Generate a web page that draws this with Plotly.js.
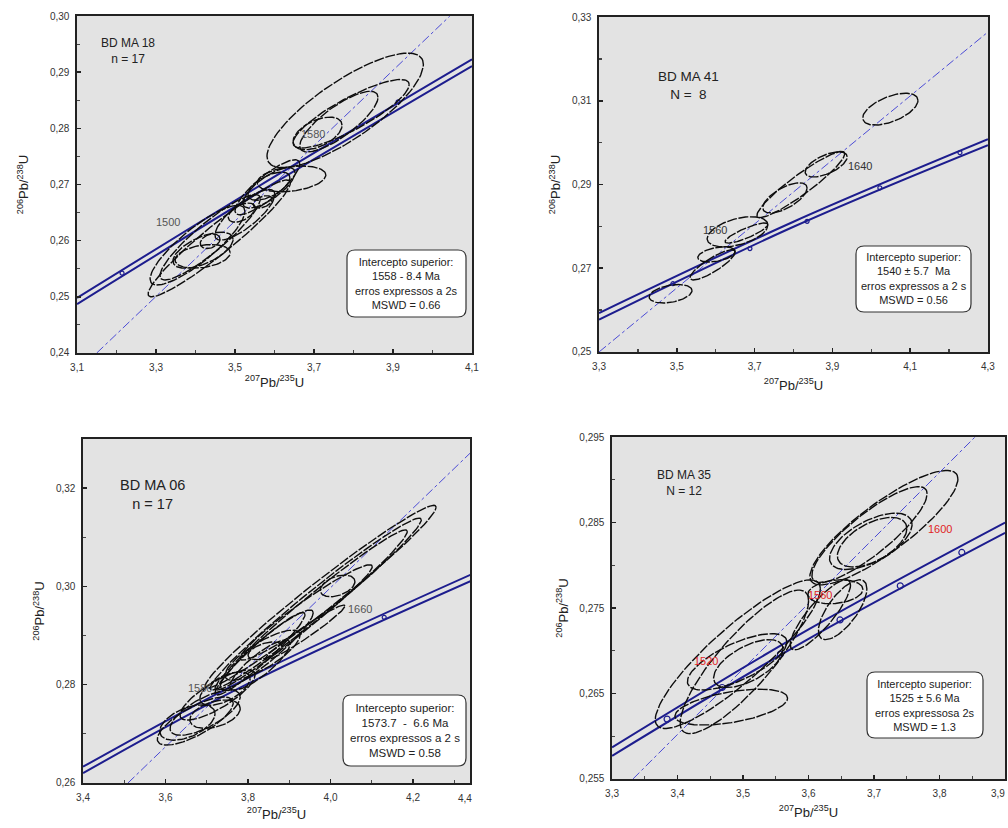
<!DOCTYPE html>
<html><head><meta charset="utf-8">
<script src="https://cdn.plot.ly/plotly-3.0.1.min.js"></script>
<style>html,body{margin:0;padding:0;background:#fff;}#chart{width:1008px;height:828px;}</style>
</head><body><div id="chart"></div>
<script>
// ---------------- DATA ----------------
// Panel 1 : BD MA 18 — error ellipses (centre, half-widths, correlation)
const p1_cx  = [3.779, 3.794, 3.763, 3.709, 3.643, 3.582, 3.586, 3.586, 3.570, 3.517, 3.460, 3.405, 3.419, 3.418, 3.437, 3.525, 3.437];
const p1_cy  = [0.2832, 0.2826, 0.2812, 0.2791, 0.2710, 0.2695, 0.2694, 0.2697, 0.2669, 0.2650, 0.2604, 0.2592, 0.2583, 0.2572, 0.2599, 0.2646, 0.2606];
const p1_sx  = [0.198, 0.147, 0.099, 0.062, 0.087, 0.082, 0.066, 0.053, 0.024, 0.034, 0.180, 0.120, 0.076, 0.070, 0.025, 0.076, 0.127];
const p1_sy  = [0.0102, 0.0061, 0.0054, 0.0029, 0.0023, 0.0049, 0.0036, 0.0025, 0.0011, 0.0017, 0.0104, 0.0071, 0.0032, 0.0021, 0.0013, 0.0045, 0.0076];
const p1_rho = [0.80, 0.85, 0.80, 0.50, 0.30, 0.85, 0.75, 0.60, 0.40, 0.50, 0.95, 0.85, 0.60, 0.30, 0.30, 0.80, 0.90];
const p1_concX = [3.1, 3.6, 4.1];
const p1_concUp = [0.2498, 0.2714, 0.2923];
const p1_concLo = [0.2487, 0.2703, 0.2911];
const p1_discX = [3.15, 4.044];
const p1_discY = [0.24, 0.30];
const p1_ageX = [3.214, 3.913];
const p1_ageY = [0.2542, 0.2847];

// Panel 2 : BD MA 41
const p2_cx  = [4.049, 3.884, 3.819, 3.778, 3.656, 3.679, 3.602, 3.592, 3.484];
const p2_cy  = [0.3080, 0.2948, 0.2900, 0.2868, 0.2787, 0.2784, 0.2733, 0.2708, 0.2639];
const p2_sx  = [0.071, 0.054, 0.113, 0.057, 0.078, 0.055, 0.048, 0.058, 0.055];
const p2_sy  = [0.0038, 0.0030, 0.0079, 0.0036, 0.0036, 0.0024, 0.0018, 0.0036, 0.0022];
const p2_rho = [0.55, 0.60, 0.93, 0.65, 0.45, 0.85, 0.40, 0.85, 0.35];
const p2_concX = [3.3, 3.8, 4.3];
const p2_concUp = [0.2593, 0.2811, 0.3008];
const p2_concLo = [0.2577, 0.2799, 0.2994];
const p2_discX = [3.3, 4.297];
const p2_discY = [0.25, 0.3262];
const p2_ageX = [3.49, 3.688, 3.835, 4.022, 4.228];
const p2_ageY = [0.2663, 0.2747, 0.2812, 0.2892, 0.2976];

// Panel 3 : BD MA 06
const p3_cx  = [3.976, 3.964, 3.953, 4.017, 3.941, 3.845, 3.829, 3.835, 3.841, 3.829, 3.938, 3.672, 3.653, 3.696, 3.726, 3.744, 3.720];
const p3_cy  = [0.2979, 0.2964, 0.2952, 0.3001, 0.2947, 0.2871, 0.2863, 0.2860, 0.2869, 0.2840, 0.2906, 0.2726, 0.2723, 0.2743, 0.2779, 0.2792, 0.2740];
const p3_sx  = [0.280, 0.256, 0.233, 0.042, 0.160, 0.113, 0.109, 0.091, 0.041, 0.073, 0.097, 0.092, 0.067, 0.085, 0.091, 0.061, 0.061];
const p3_sy  = [0.0186, 0.0175, 0.0163, 0.0022, 0.0097, 0.0081, 0.0084, 0.0051, 0.0018, 0.0051, 0.0056, 0.0049, 0.0036, 0.0046, 0.0051, 0.0034, 0.0029];
const p3_rho = [0.98, 0.98, 0.98, 0.40, 0.96, 0.93, 0.95, 0.80, 0.50, 0.85, 0.97, 0.75, 0.50, 0.70, 0.80, 0.60, 0.40];
const p3_concX = [3.4, 3.8, 4.34];
const p3_concUp = [0.2633, 0.2814, 0.3024];
const p3_concLo = [0.2620, 0.2802, 0.3011];
const p3_discX = [3.509, 4.338];
const p3_discY = [0.26, 0.3271];
const p3_ageX = [4.13];
const p3_ageY = [0.2937];

// Panel 4 : BD MA 35
const p4_cx  = [3.715, 3.693, 3.695, 3.697, 3.641, 3.652, 3.618, 3.492, 3.502, 3.482, 3.491, 3.508];
const p4_cy  = [0.2844, 0.2836, 0.2828, 0.2827, 0.2769, 0.2748, 0.2742, 0.2696, 0.2687, 0.2634, 0.2687, 0.2685];
const p4_sx  = [0.113, 0.088, 0.063, 0.053, 0.042, 0.037, 0.046, 0.126, 0.098, 0.086, 0.076, 0.053];
const p4_sy  = [0.0067, 0.0056, 0.0033, 0.0029, 0.0014, 0.0035, 0.0041, 0.0087, 0.0084, 0.0021, 0.0033, 0.0028];
const p4_rho = [0.85, 0.85, 0.60, 0.55, 0.20, 0.70, 0.85, 0.88, 0.85, 0.50, 0.70, 0.60];
const p4_concX = [3.3, 3.6, 3.9];
const p4_concUp = [0.2587, 0.2725, 0.2850];
const p4_concLo = [0.2577, 0.2714, 0.2838];
const p4_discX = [3.332, 3.854];
const p4_discY = [0.255, 0.295];
const p4_ageX = [3.384, 3.468, 3.557, 3.648, 3.740, 3.834];
const p4_ageY = [0.2620, 0.2657, 0.2696, 0.2736, 0.2776, 0.2815];

// Texts
const sampleLabels = ["BD MA 18<br>n = 17", "BD MA 41<br>N =  8", "BD MA 06<br>n = 17", "BD MA 35<br>N = 12"];
const boxTexts = [
  "Intercepto superior:<br>1558 - 8.4 Ma<br>erros expressos a 2s<br>MSWD = 0.66",
  "Intercepto superior:<br>1540 ± 5.7  Ma<br>erros expressos a 2 s<br>MSWD = 0.56",
  "Intercepto superior:<br>1573.7  -  6.6 Ma<br>erros expressos a 2 s<br>MSWD = 0.58",
  "Intercepto superior:<br>1525 ± 5.6 Ma<br>erros expressosa 2s<br>MSWD = 1.3"
];
const ageLabels = [
  {t: ["1500", "1580"], x: [3.330, 3.697], y: [0.2633, 0.2790]},
  {t: ["1560", "1640"], x: [3.598, 3.971], y: [0.2791, 0.2944]},
  {t: ["1580", "1660"], x: [3.684, 4.072], y: [0.2793, 0.2954]},
  {t: ["1520", "1560", "1600"], x: [3.4435, 3.6176, 3.8008], y: [0.2688, 0.2765, 0.2842]}
];
const edgeTickLabels = ["4,4", "3,9"];   // last tick labels at the cropped right edges
const xTitle = "<sup>207</sup>Pb/<sup>235</sup>U";
const yTitle = "<sup>206</sup>Pb/<sup>238</sup>U";

// ---------------- BUILD ----------------
const W = 1008, H = 828;
const FONT = 'Arial, "Liberation Sans", sans-serif';
const fx = p => p / W;
const fy = p => 1 - p / H;

const NAVY = '#1d1d8e';

function ellipses(cx, cy, sx, sy, rho, xa, ya) {
  const xs = [], ys = [];
  for (let i = 0; i < cx.length; i++) {
    const k = Math.sqrt(1 - rho[i] * rho[i]);
    for (let j = 0; j <= 96; j++) {
      const t = 2 * Math.PI * j / 96;
      xs.push(cx[i] + sx[i] * Math.cos(t));
      ys.push(cy[i] + sy[i] * (rho[i] * Math.cos(t) + k * Math.sin(t)));
    }
    xs.push(null); ys.push(null);
  }
  return {type: 'scatter', mode: 'lines', x: xs, y: ys, xaxis: xa, yaxis: ya,
    line: {color: '#0d0d0d', width: 1.4, dash: '10px,1.6px'}, hoverinfo: 'skip', connectgaps: false};
}
function line(x, y, xa, ya, style) {
  return {type: 'scatter', mode: 'lines', x: x, y: y, xaxis: xa, yaxis: ya, line: style, hoverinfo: 'skip'};
}
function ages(x, y, xa, ya, size) {
  return {type: 'scatter', mode: 'markers', x: x, y: y, xaxis: xa, yaxis: ya,
    marker: {symbol: 'circle-open', size: size, color: NAVY, line: {width: 1.2, color: NAVY}}, hoverinfo: 'skip'};
}

const panels = [
  {cx: p1_cx, cy: p1_cy, sx: p1_sx, sy: p1_sy, rho: p1_rho, cX: p1_concX, cU: p1_concUp, cL: p1_concLo, dX: p1_discX, dY: p1_discY, aX: p1_ageX, aY: p1_ageY},
  {cx: p2_cx, cy: p2_cy, sx: p2_sx, sy: p2_sy, rho: p2_rho, cX: p2_concX, cU: p2_concUp, cL: p2_concLo, dX: p2_discX, dY: p2_discY, aX: p2_ageX, aY: p2_ageY},
  {cx: p3_cx, cy: p3_cy, sx: p3_sx, sy: p3_sy, rho: p3_rho, cX: p3_concX, cU: p3_concUp, cL: p3_concLo, dX: p3_discX, dY: p3_discY, aX: p3_ageX, aY: p3_ageY},
  {cx: p4_cx, cy: p4_cy, sx: p4_sx, sy: p4_sy, rho: p4_rho, cX: p4_concX, cU: p4_concUp, cL: p4_concLo, dX: p4_discX, dY: p4_discY, aX: p4_ageX, aY: p4_ageY}
];

// layout geometry (pixels) for each panel
const geo = [
  {x0: 77, x1: 472, y0: 16, y1: 353, xr: [3.0999, 4.1001], yr: [0.23999, 0.30001], xt0: 3.1, xd: 0.2, xm: 0.1, yt0: 0.24, yd: 0.01, ym: 0.005, xf: '.1f', yf: '.2f',
   box: [347, 250, 466, 317], boxFont: 11, lab: [128, 51], labFont: 12, xts: 6, yts: 18, ageColor: '#555', mk: 4},
  {x0: 599, x1: 988, y0: 17, y1: 352, xr: [3.2999, 4.3001], yr: [0.24999, 0.33001], xt0: 3.3, xd: 0.2, xm: 0.1, yt0: 0.25, yd: 0.02, ym: 0.01, xf: '.1f', yf: '.2f',
   box: [856, 246, 971, 312], boxFont: 11, lab: [688, 85], labFont: 13.5, xts: 10, yts: 8, ageColor: '#333', mk: 4},
  {x0: 83, x1: 470, y0: 439, y1: 783, xr: [3.3999, 4.338], yr: [0.25999, 0.33], xt0: 3.4, xd: 0.2, xm: 0.1, yt0: 0.26, yd: 0.02, ym: 0.01, xf: '.1f', yf: '.2f',
   box: [343, 695, 466, 766], boxFont: 11.5, lab: [152, 494], labFont: 14.5, xts: 8, yts: 8, ageColor: '#555', mk: 4},
  {x0: 612, x1: 1005, y0: 437, y1: 779, xr: [3.2999, 3.8999], yr: [0.25499, 0.29501], xt0: 3.3, xd: 0.1, xm: 0.05, yt0: 0.255, yd: 0.01, ym: 0.005, xf: '.1f', yf: '.3f',
   box: [867, 672, 983, 738], boxFont: 11, lab: [684, 483], labFont: 12, xts: 10, yts: 8, ageColor: '#e02424', mk: 6}
];

const data = [];
const layout = {
  width: W, height: H, margin: {l: 0, r: 0, t: 0, b: 0}, autosize: false,
  paper_bgcolor: '#ffffff', plot_bgcolor: '#e3e3e3', separators: ',.', showlegend: false,
  font: {family: FONT, color: '#222'}, shapes: [], annotations: []
};

panels.forEach((p, i) => {
  const n = i === 0 ? '' : String(i + 1);
  const xa = 'x' + n, ya = 'y' + n;
  const g = geo[i];
  data.push(line(p.dX, p.dY, xa, ya, {color: '#4b4bd6', width: 1, dash: 'dashdot'}));
  data.push(line(p.cX, p.cU, xa, ya, {color: NAVY, width: 2, shape: 'spline'}));
  data.push(line(p.cX, p.cL, xa, ya, {color: NAVY, width: 2, shape: 'spline'}));
  data.push(ages(p.aX, p.aY, xa, ya, g.mk));
  data.push(ellipses(p.cx, p.cy, p.sx, p.sy, p.rho, xa, ya));

  const common = {showgrid: false, zeroline: false, showline: true, linecolor: '#222', linewidth: 1.6, mirror: true,
    ticks: 'inside', ticklen: 4, tickwidth: 1.6, tickcolor: '#222', ticklabelstandoff: 4,
    tickfont: {family: FONT, size: 10, color: '#333'}};
  layout['xaxis' + n] = Object.assign({}, common, {
    anchor: ya, domain: [fx(g.x0), fx(g.x1)], range: g.xr, tickmode: 'linear', tick0: g.xt0, dtick: g.xd, tickformat: g.xf,
    minor: {ticks: 'inside', ticklen: 3, tickwidth: 1.2, tickcolor: '#444', dtick: g.xm, tick0: g.xt0},
    title: {text: xTitle, font: {family: FONT, size: 13, color: '#222'}, standoff: g.xts}
  });
  layout['yaxis' + n] = Object.assign({}, common, {
    anchor: xa, domain: [fy(g.y1), fy(g.y0)], range: g.yr, tickmode: 'linear', tick0: g.yt0, dtick: g.yd, tickformat: g.yf,
    minor: {ticks: 'inside', ticklen: 3, tickwidth: 1.2, tickcolor: '#444', dtick: g.ym, tick0: g.yt0},
    title: {text: yTitle, font: {family: FONT, size: 13, color: '#222'}, standoff: g.yts}
  });

  // rounded info box
  const [bx0, by0, bx1, by1] = g.box, r = 8;
  const P = (x, y) => fx(x) + ',' + fy(y);
  layout.shapes.push({type: 'path', xref: 'paper', yref: 'paper',
    path: 'M' + P(bx0 + r, by0) + ' L' + P(bx1 - r, by0) + ' Q' + P(bx1, by0) + ' ' + P(bx1, by0 + r) +
      ' L' + P(bx1, by1 - r) + ' Q' + P(bx1, by1) + ' ' + P(bx1 - r, by1) +
      ' L' + P(bx0 + r, by1) + ' Q' + P(bx0, by1) + ' ' + P(bx0, by1 - r) +
      ' L' + P(bx0, by0 + r) + ' Q' + P(bx0, by0) + ' ' + P(bx0 + r, by0) + ' Z',
    fillcolor: '#ffffff', line: {color: '#333', width: 1.2}, layer: 'above'});
  layout.annotations.push({xref: 'paper', yref: 'paper', x: fx((bx0 + bx1) / 2), y: fy((by0 + by1) / 2),
    xanchor: 'center', yanchor: 'middle', showarrow: false, align: 'center', text: boxTexts[i],
    font: {family: FONT, size: g.boxFont, color: '#222'}});
  // sample label
  layout.annotations.push({xref: 'paper', yref: 'paper', x: fx(g.lab[0]), y: fy(g.lab[1]),
    xanchor: 'center', yanchor: 'middle', showarrow: false, align: 'center', text: sampleLabels[i],
    font: {family: FONT, size: g.labFont, color: '#222'}});
  // age labels
  const al = ageLabels[i];
  al.t.forEach((t, k) => layout.annotations.push({xref: xa, yref: ya, x: al.x[k], y: al.y[k],
    xanchor: 'center', yanchor: 'middle', showarrow: false, text: t, font: {family: FONT, size: 11, color: g.ageColor}}));
});
// tick labels at the cropped right edges of panels 3 and 4
layout.annotations.push({xref: 'paper', yref: 'paper', x: fx(465), y: fy(798), xanchor: 'center', yanchor: 'middle',
  showarrow: false, text: edgeTickLabels[0], font: {family: FONT, size: 10, color: '#333'}});
layout.annotations.push({xref: 'paper', yref: 'paper', x: fx(1007), y: fy(793), xanchor: 'right', yanchor: 'middle',
  showarrow: false, text: edgeTickLabels[1], font: {family: FONT, size: 10, color: '#333'}});

Plotly.newPlot('chart', data, layout, {displayModeBar: false, staticPlot: true});
</script></body></html>
